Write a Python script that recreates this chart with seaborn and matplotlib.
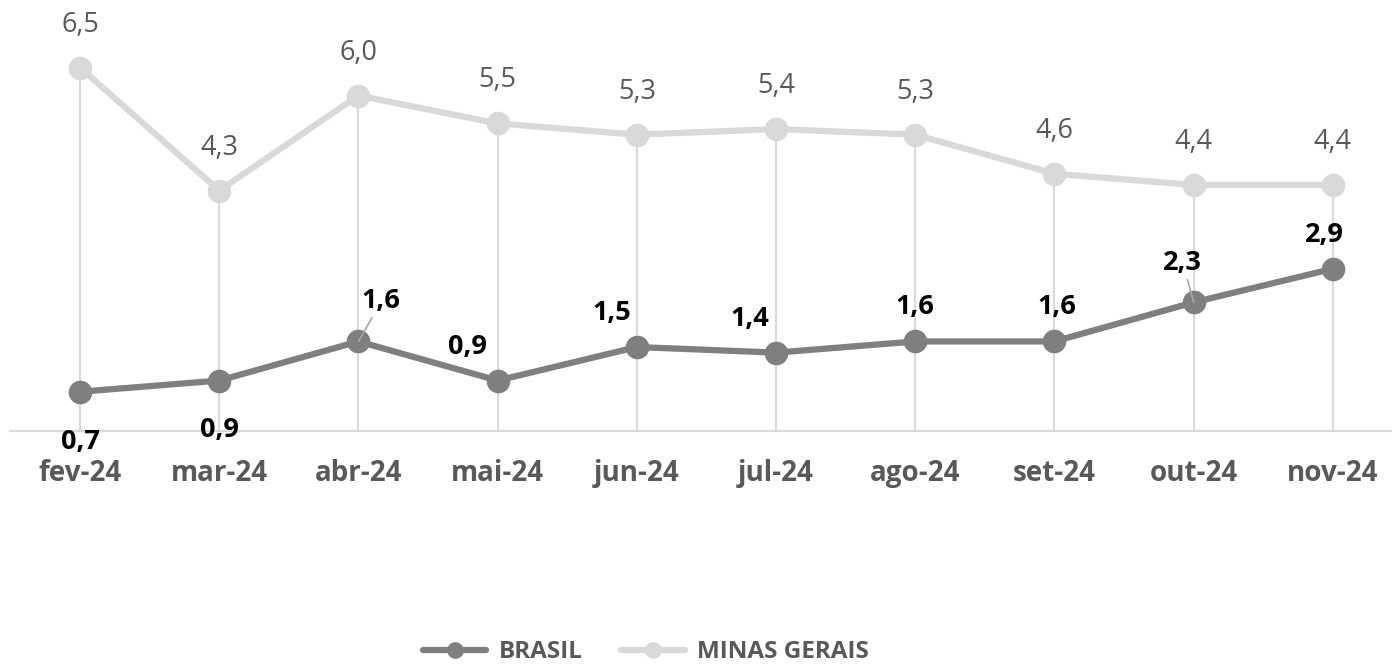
import numpy as np
import pandas as pd
import matplotlib
matplotlib.use("Agg")
from matplotlib import pyplot as plt
from matplotlib.lines import Line2D
import seaborn as sns

# data
meses = ['fev-24', 'mar-24', 'abr-24', 'mai-24', 'jun-24',
         'jul-24', 'ago-24', 'set-24', 'out-24', 'nov-24']
brasil = [0.7, 0.9, 1.6, 0.9, 1.5, 1.4, 1.6, 1.6, 2.3, 2.9]
minas = [6.5, 4.3, 6.0, 5.5, 5.3, 5.4, 5.3, 4.6, 4.4, 4.4]

# label offsets for the brasil series (pixels)
brasil_offsets = [(0, -50), (0, -49), (22, 40), (-30, 34), (-25, 34),
                  (-26, 34), (0, 34), (2, 34), (-11, 39), (-8, 34)]
leaders = [2, 8]

df = pd.DataFrame({'mes': meses, 'BRASIL': brasil, 'MINAS GERAIS': minas})

sns.set_style('white')
plt.rcParams['font.family'] = ['Open Sans', 'DejaVu Sans']

cor_br = '#7f7f7f'
cor_mg = '#d9d9d9'
cor_txt = '#595959'

fig = plt.figure(figsize=(13.92, 6.68), dpi=100)
ax = fig.add_axes([0.0075, 0.355, 1.0, 0.63])

# drop lines from the highest point down to the axis
x = np.arange(len(meses))
ax.vlines(x, 0, np.maximum(brasil, minas), color=cor_mg, lw=1.5, zorder=1)

sns.lineplot(data=df, x='mes', y='MINAS GERAIS', ax=ax, color=cor_mg, lw=4.5,
             marker='o', markersize=17, markeredgewidth=0, sort=False, zorder=3)
sns.lineplot(data=df, x='mes', y='BRASIL', ax=ax, color=cor_br, lw=4.5,
             marker='o', markersize=17, markeredgewidth=0, sort=False, zorder=3)

for i, v in enumerate(minas):
    ax.annotate(f'{v:.1f}'.replace('.', ','), (i, v), xytext=(0, 43),
                textcoords='offset pixels', ha='center', va='center',
                fontsize=19.5, color=cor_txt)

for i, v in enumerate(brasil):
    dx, dy = brasil_offsets[i]
    arrow = None
    if i in leaders:
        arrow = dict(arrowstyle='-', color='#a6a6a6', lw=1.2,
                     shrinkA=0, shrinkB=0,
                     relpos=(0.35, 0.05) if i == 2 else (0.6, 0.0))
    ax.annotate(f'{v:.1f}'.replace('.', ','), (i, v), xytext=(dx, dy),
                textcoords='offset pixels', ha='center', va='center',
                fontsize=19.5, fontweight='bold', color='black',
                arrowprops=arrow, zorder=5)

ax.set_xlim(-0.5, 9.5)
ax.set_ylim(0, 7.53)
ax.set_xlabel('')
ax.set_ylabel('')
ax.set_yticks([])
ax.get_legend() and ax.get_legend().remove()
for s in ['top', 'right', 'left']:
    ax.spines[s].set_visible(False)
ax.spines['bottom'].set_color(cor_mg)
ax.spines['bottom'].set_linewidth(1.5)
ax.tick_params(axis='x', length=0, pad=20, labelsize=20, labelcolor=cor_txt)
for t in ax.get_xticklabels():
    t.set_fontweight('bold')

handles = [Line2D([], [], color=cor_br, lw=4.5, marker='o', markersize=11),
           Line2D([], [], color=cor_mg, lw=4.5, marker='o', markersize=11)]
leg = fig.legend(handles, ['BRASIL', 'MINAS GERAIS'], loc='lower center',
                 bbox_to_anchor=(0.464, -0.027), ncol=2, frameon=False,
                 handlelength=2.6, columnspacing=1.6, handletextpad=0.5,
                 prop={'size': 17.5, 'weight': 'bold'})
for t in leg.get_texts():
    t.set_color(cor_txt)

fig.savefig('out.png', dpi=100)
